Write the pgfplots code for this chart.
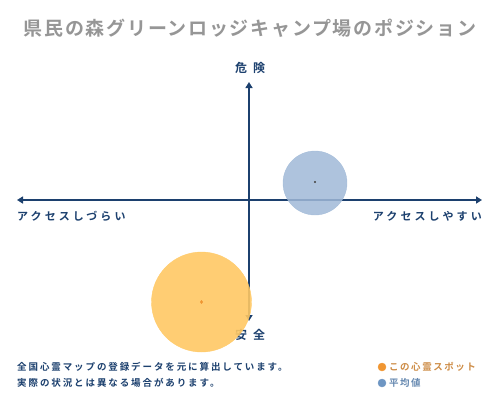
\documentclass[border=0pt]{standalone}
\usepackage{pgfplots}
\pgfplotsset{compat=1.18}
\usepackage{fontspec}
\usetikzlibrary{arrows.meta}
\setmainfont{Noto Sans CJK JP}
\newfontfamily\titlefont[LetterSpace=9]{Noto Sans CJK JP Bold}
\newfontfamily\jpb[LetterSpace=28]{Noto Sans CJK JP Bold}
\newfontfamily\jpf[LetterSpace=20]{Noto Sans CJK JP Bold}
\newfontfamily\jpl[LetterSpace=16]{Noto Sans CJK JP Bold}
\definecolor{navy}{RGB}{28,64,110}
\definecolor{titlegray}{RGB}{150,150,150}
\definecolor{spotfill}{RGB}{255,200,100}
\definecolor{avgfill}{RGB}{160,185,215}
\definecolor{spotdot}{RGB}{240,150,50}
\definecolor{avgdot}{RGB}{110,150,195}
\definecolor{spottext}{RGB}{205,140,70}
\definecolor{avgtext}{RGB}{100,135,175}
\begin{document}
\begin{tikzpicture}
\begin{axis}[
    width=500pt, height=400pt,
    scale only axis,
    xmin=0, xmax=500,
    ymin=0, ymax=400,
    y dir=reverse,
    hide axis,
    clip=false,
]
% average (blue) and this spot (orange)
\addplot[only marks, mark=*, mark size=32pt, color=avgfill, opacity=0.85]
    coordinates {(315,183)};
\addplot[only marks, mark=*, mark size=50pt, color=spotfill, opacity=0.9]
    coordinates {(201.5,302)};
\addplot[only marks, mark=*, mark size=0.8pt, color=black!70]
    coordinates {(315,182)};
\addplot[only marks, mark=diamond*, mark size=1.6pt, color=spotdot]
    coordinates {(201.5,302)};

% axes
\draw[navy, line width=2.2pt, {Triangle[length=6pt,width=7pt]}-{Triangle[length=6pt,width=7pt]}]
    (axis cs:17,200) -- (axis cs:482,200);
\draw[navy, line width=2.2pt, {Triangle[length=6pt,width=7pt]}-{Triangle[length=6pt,width=7pt]}]
    (axis cs:249,82) -- (axis cs:249,321);

% texts
\node[text=titlegray, font=\fontsize{19}{22}\selectfont\titlefont] at (axis cs:250,28)
    {県民の森グリーンロッジキャンプ場のポジション};
\node[text=navy, font=\fontsize{12}{14}\selectfont\jpb] at (axis cs:250,68) {危\hspace{6pt}険};
\node[text=navy, font=\fontsize{12}{14}\selectfont\jpb] at (axis cs:250,335) {安\hspace{6pt}全};
\node[text=navy, anchor=west, inner sep=0pt, font=\fontsize{11}{13}\selectfont\jpb] at (axis cs:17,216) {アクセスしづらい};
\node[text=navy, anchor=east, inner sep=0pt, font=\fontsize{11}{13}\selectfont\jpb] at (axis cs:482,216) {アクセスしやすい};

\node[text=navy, anchor=west, inner sep=0pt, font=\fontsize{9.5}{12}\selectfont\jpf] at (axis cs:17,367)
    {全国心霊マップの登録データを元に算出しています。};
\node[text=navy, anchor=west, inner sep=0pt, font=\fontsize{9.5}{12}\selectfont\jpf] at (axis cs:17,383)
    {実際の状況とは異なる場合があります。};

\addplot[only marks, mark=*, mark size=4pt, color=spotdot]
    coordinates {(382,367)};
\addplot[only marks, mark=*, mark size=4pt, color=avgdot]
    coordinates {(382,383)};
\node[text=spottext, anchor=west, inner sep=0pt, font=\fontsize{9.5}{12}\selectfont\jpl] at (axis cs:389,367) {この心霊スポット};
\node[text=avgtext, anchor=west, inner sep=0pt, font=\fontsize{9.5}{12}\selectfont\jpl] at (axis cs:389,383) {平均値};
\end{axis}
\pgfresetboundingbox
\path (0,0) rectangle (500pt,400pt);
\end{tikzpicture}
\end{document}
